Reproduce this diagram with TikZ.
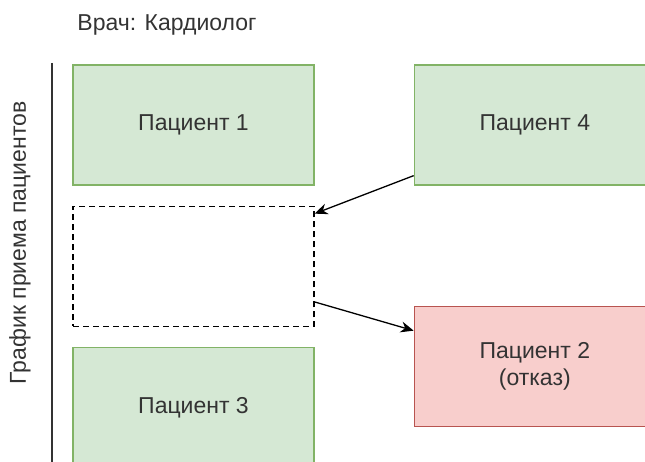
\documentclass[tikz,border=0pt]{standalone}
\usepackage{fontspec}
\setmainfont{Liberation Sans}
\usepackage{xcolor}
\usepackage{tikz}
\usetikzlibrary{arrows.meta, positioning}
\definecolor{mytext}{RGB}{51,51,51}
\definecolor{mygreen}{RGB}{130,179,102}
\definecolor{hdrgreen}{RGB}{213,232,212}
\definecolor{myred}{RGB}{184,84,80}
\definecolor{hdrred}{RGB}{248,206,204}
\tikzset{
  patblock/.style={rectangle, draw=mygreen, fill=hdrgreen,
    minimum width=241pt, minimum height=120pt, align=center,
    text=mytext, font=\fontsize{23}{27}\selectfont, line width=1.3pt},
  redblock/.style={patblock, draw=myred, fill=hdrred},
  slotblock/.style={rectangle, draw=black, dashed, dash pattern=on 6pt off 4pt,
    minimum width=241pt, minimum height=120pt, line width=1.3pt},
  arrow/.style={-{Stealth[length=13pt, width=11pt]}, line width=1.3pt, color=black},
  label/.style={text=mytext, font=\fontsize{23}{27}\selectfont}
}
\begin{document}
\begin{tikzpicture}[x=1pt, y=-1pt, node distance=20pt and 99pt]
  \clip (0,0) rectangle (645,462);
  % Header
  \node[label] (doctor) at (167,25) {Врач: Кардиолог};
  % Timeline axis
  \coordinate (axtop) at (52,63);
  \coordinate (axbot) at (52,470);
  \draw[line width=2pt, color=mytext] (axtop) -- (axbot);
  \node[label, rotate=90] (axis) at (20,243) {График приема пациентов};
  % Schedule column
  \node[patblock] (p1) at (193.5,125) {Пациент 1};
  \node[slotblock, below=of p1] (slot) {};
  \node[patblock, below=of slot] (p3) {Пациент 3};
  % Moved patients
  \node[patblock, right=of p1] (p4) {Пациент 4};
  \node[redblock, right=of slot, yshift=-100pt] (p2) {Пациент 2\\(отказ)};
  % Arrows
  \draw[arrow] ([yshift=10pt]p4.south west) -- ([yshift=-8pt]slot.north east);
  \draw[arrow] ([yshift=25pt]slot.south east) -- ([yshift=-25pt]p2.north west);
\end{tikzpicture}
\end{document}
